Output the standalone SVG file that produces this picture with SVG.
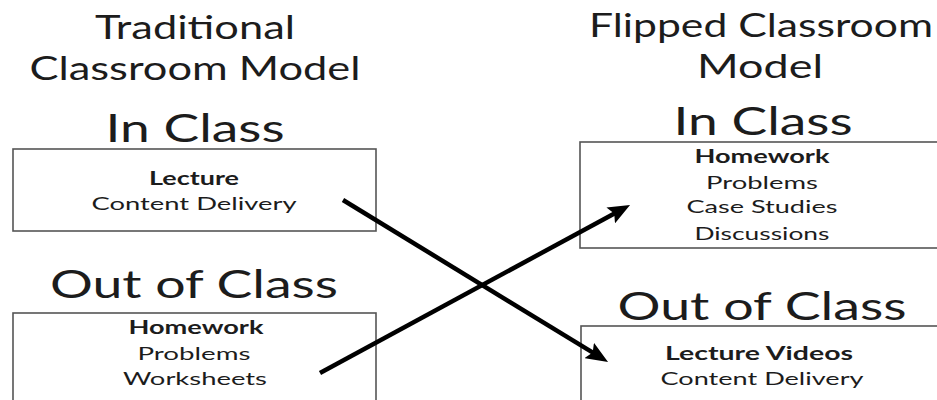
<svg xmlns="http://www.w3.org/2000/svg" width="937" height="400" viewBox="0 0 937 400">
<style>
text{font-family:Lato,"Open Sans","Liberation Sans",sans-serif;fill:#1c1c1c;text-anchor:middle}
.title{font-size:32px}
.head{font-size:38px}
.b{font-size:18px;font-weight:bold}
.t{font-size:18px}
.box{fill:#fff;stroke:#555;stroke-width:1.6}
.arrow{stroke:#000;stroke-width:4.5;fill:none;marker-end:url(#ah)}
</style>
<defs>
<marker id="ah" markerUnits="userSpaceOnUse" viewBox="0 0 22 18" markerWidth="22" markerHeight="18" refX="10" refY="9" orient="auto">
<path d="M0,0 L22,9 L0,18 L4,9 z" fill="#000"/>
</marker>
</defs>
<rect width="937" height="400" fill="#fff"/>
<g id="titles">
<text class="title" x="195" y="39" textLength="200" lengthAdjust="spacingAndGlyphs">Traditional</text>
<text class="title" x="195" y="80" textLength="331" lengthAdjust="spacingAndGlyphs">Classroom Model</text>
<text class="title" x="761" y="37" textLength="344" lengthAdjust="spacingAndGlyphs">Flipped Classroom</text>
<text class="title" x="760" y="78" textLength="126" lengthAdjust="spacingAndGlyphs">Model</text>
</g>
<g id="trad-in">
<text class="head" x="195" y="142" textLength="179" lengthAdjust="spacingAndGlyphs">In Class</text>
<rect class="box" x="13" y="149" width="363" height="82"/>
<text class="b" x="194" y="185" textLength="90" lengthAdjust="spacingAndGlyphs">Lecture</text>
<text class="t" x="194" y="210" textLength="205" lengthAdjust="spacingAndGlyphs">Content Delivery</text>
</g>
<g id="trad-out">
<text class="head" x="194" y="298" textLength="288" lengthAdjust="spacingAndGlyphs">Out of Class</text>
<rect class="box" x="13" y="313" width="363" height="100"/>
<text class="b" x="196" y="334" textLength="135" lengthAdjust="spacingAndGlyphs">Homework</text>
<text class="t" x="194" y="360" textLength="113" lengthAdjust="spacingAndGlyphs">Problems</text>
<text class="t" x="195" y="385" textLength="144" lengthAdjust="spacingAndGlyphs">Worksheets</text>
</g>
<g id="flip-in">
<text class="head" x="763" y="135" textLength="179" lengthAdjust="spacingAndGlyphs">In Class</text>
<rect class="box" x="580" y="142" width="400" height="106"/>
<text class="b" x="762" y="163" textLength="135" lengthAdjust="spacingAndGlyphs">Homework</text>
<text class="t" x="762" y="189" textLength="112" lengthAdjust="spacingAndGlyphs">Problems</text>
<text class="t" x="762" y="213" textLength="151" lengthAdjust="spacingAndGlyphs">Case Studies</text>
<text class="t" x="762" y="240" textLength="135" lengthAdjust="spacingAndGlyphs">Discussions</text>
</g>
<g id="flip-out">
<text class="head" x="762" y="320" textLength="289" lengthAdjust="spacingAndGlyphs">Out of Class</text>
<rect class="box" x="581" y="326" width="400" height="100"/>
<text class="b" x="759" y="360" textLength="188" lengthAdjust="spacingAndGlyphs">Lecture Videos</text>
<text class="t" x="762" y="385" textLength="203" lengthAdjust="spacingAndGlyphs">Content Delivery</text>
</g>
<g id="connectors">
<line class="arrow" x1="343" y1="200" x2="597.8" y2="355.7"/>
<line class="arrow" x1="320" y1="373" x2="619.5" y2="210.7"/>
</g>
</svg>
